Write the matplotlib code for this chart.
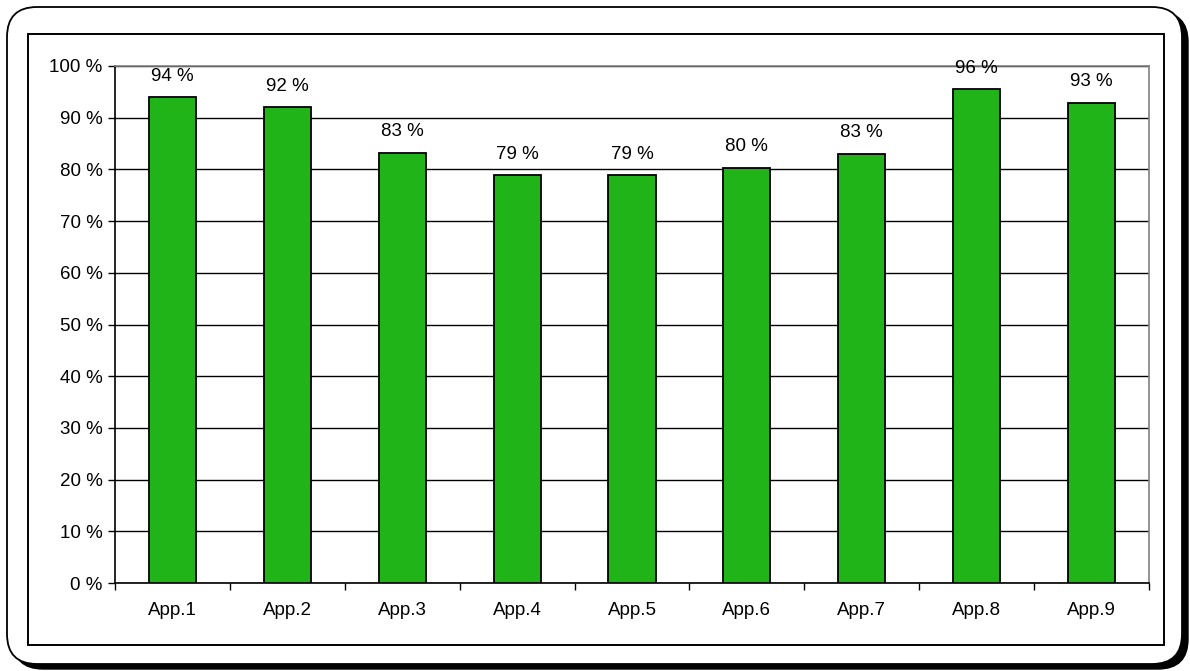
import matplotlib
matplotlib.use("Agg")
import matplotlib.pyplot as plt
from matplotlib.patches import FancyBboxPatch, Rectangle
import numpy as np

# data
categories = ["App.1", "App.2", "App.3", "App.4", "App.5", "App.6", "App.7", "App.8", "App.9"]
values = [94.0, 92.0, 83.2, 78.9, 78.9, 80.3, 83.0, 95.5, 92.9]
y_ticks = [0, 10, 20, 30, 40, 50, 60, 70, 80, 90, 100]

BAR_COLOR = "#20B418"
W, H = 1190, 671

plt.rcParams["font.family"] = ["Liberation Sans", "DejaVu Sans"]

fig = plt.figure(figsize=(W / 100, H / 100), dpi=100)

# ---------------------------------------------------------------------------
# Frame: rounded outer box with shadow, plain inner rectangle (pixel coords)
# ---------------------------------------------------------------------------
bg = fig.add_axes([0, 0, 1, 1])
bg.set_xlim(0, W)
bg.set_ylim(H, 0)
bg.axis("off")

shadow = FancyBboxPatch((13, 12), 1175, 657, boxstyle="round,pad=0,rounding_size=30",
                        facecolor="black", edgecolor="black", lw=1)
bg.add_patch(shadow)
outer = FancyBboxPatch((7, 7), 1175, 657, boxstyle="round,pad=0,rounding_size=30",
                       facecolor="white", edgecolor="black", lw=1.3)
bg.add_patch(outer)
inner = Rectangle((28, 34), 1136, 611, facecolor="white", edgecolor="black", lw=1.4)
bg.add_patch(inner)

# ---------------------------------------------------------------------------
# Bar chart
# ---------------------------------------------------------------------------
left, right, top, bottom = 115, 1149, 66, 583
ax = fig.add_axes([left / W, (H - bottom) / H, (right - left) / W, (bottom - top) / H])

x = np.arange(len(categories))
bars = ax.bar(x, values, width=0.41, color=BAR_COLOR, edgecolor="black", linewidth=1.3, zorder=3)

for rect, v in zip(bars, values):
    ax.annotate(f"{v:.0f} %", (rect.get_x() + rect.get_width() / 2, v),
                xytext=(0, 9), textcoords="offset points",
                ha="center", va="bottom", fontsize=13.5, zorder=4)

ax.set_xlim(-0.5, len(categories) - 0.5)
ax.set_ylim(0, 100)
ax.set_yticks(y_ticks)
ax.set_yticklabels([f"{t} %" for t in y_ticks])
ax.yaxis.grid(True, color="black", linewidth=1.0, zorder=0)
ax.set_axisbelow(True)

ax.set_xticks(x)
ax.set_xticklabels(categories)
ax.set_xticks(np.arange(-0.5, len(categories)), minor=True)
ax.tick_params(axis="x", which="major", length=0, pad=14, labelsize=13.5)
ax.tick_params(axis="x", which="minor", length=5, width=1, direction="out")
ax.tick_params(axis="y", length=5, width=1, direction="out", pad=4, labelsize=13.5)

for side in ("top", "right"):
    ax.spines[side].set_color("#808080")
    ax.spines[side].set_linewidth(1.2)
for side in ("left", "bottom"):
    ax.spines[side].set_color("black")
    ax.spines[side].set_linewidth(1.2)

fig.savefig("out.png", dpi=100)
